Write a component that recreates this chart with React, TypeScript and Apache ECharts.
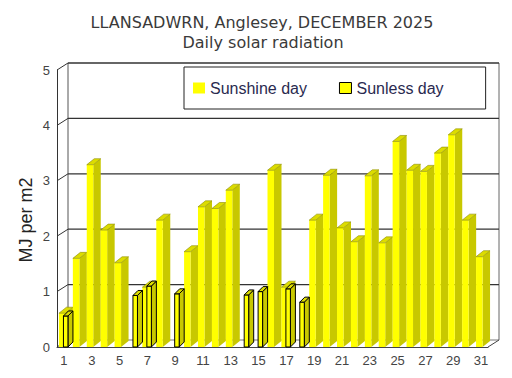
import React, { useEffect, useRef } from "react";
import * as echarts from "echarts";

const titleText = "LLANSADWRN, Anglesey, DECEMBER 2025";
const subtitleText = "Daily solar radiation";
const yAxisName = "MJ per m2";

const days = ["1","2","3","4","5","6","7","8","9","10","11","12","13","14","15","16","17","18","19","20","21","22","23","24","25","26","27","28","29","30","31"];
const sunshine: (number | null)[] = [0.61, 1.6, 3.29, 2.11, 1.52, null, 1.08, 2.29, null, 1.72, 2.53, 2.5, 2.83, null, null, 3.19, 1.08, null, 2.29, 3.1, 2.15, 1.9, 3.09, 1.88, 3.71, 3.19, 3.17, 3.5, 3.83, 2.29, 1.63];
const sunless: (number | null)[] = [0.56, null, null, null, null, 0.93, 1.1, null, 0.96, null, null, null, null, 0.94, 1.0, null, 1.05, 0.81, null, null, null, null, null, null, null, null, null, null, null, null, null];
const yTicks = [0, 1, 2, 3, 4, 5];

const DX = 11;
const DY = -7;

function toPoints(arr: (number | null)[]) {
  const out: number[][] = [];
  arr.forEach((v, i) => {
    if (v !== null) out.push([i, v]);
  });
  return out;
}

export default function App() {
  const ref = useRef<HTMLDivElement>(null);
  useEffect(() => {
    if (!ref.current) return;
    const chart = echarts.init(ref.current, undefined, { renderer: "svg" });

    const barRender = (kind: "sun" | "dull") => (params: any, api: any) => {
      const i = api.value(0);
      const v = api.value(1);
      const top = api.coord([i, v]);
      const bot = api.coord([i, 0]);
      const c = top[0];
      let x0: number, x1: number, dx: number, dy: number;
      if (kind === "sun") {
        x0 = c - 5; x1 = c + 1.5; dx = 7.5; dy = -6;
      } else {
        x0 = c - 0.5; x1 = c + 4; dx = 5; dy = -5;
      }
      const yt = top[1];
      const yb = bot[1];
      const stroke = kind === "dull" ? "#000" : undefined;
      const lw = kind === "dull" ? 1 : 0;
      return {
        type: "group",
        children: [
          {
            type: "polygon",
            shape: { points: [[x1, yt], [x1 + dx, yt + dy], [x1 + dx, yb + dy], [x1, yb]] },
            style: { fill: "#c8c800", stroke: stroke, lineWidth: lw },
          },
          {
            type: "rect",
            shape: { x: x0, y: yt, width: x1 - x0, height: yb - yt },
            style: { fill: "#ffff00", stroke: stroke, lineWidth: lw },
          },
          {
            type: "polygon",
            shape: { points: [[x0, yt], [x1, yt], [x1 + dx, yt + dy], [x0 + dx, yt + dy]] },
            style: { fill: "#dcdc00", stroke: kind === "dull" ? "#000" : "#8c8c00", lineWidth: kind === "dull" ? 1 : 0.6 },
          },
        ],
      };
    };

    const frameRender = (params: any, api: any) => {
      const cs = params.coordSys;
      const v = api.value(1);
      const p = api.coord([0, v]);
      const y = p[1];
      const xl = cs.x;
      const xr = cs.x + cs.width;
      const children: any[] = [
        { type: "line", shape: { x1: xl, y1: y, x2: xl + DX, y2: y + DY }, style: { stroke: "#333", lineWidth: 1 } },
        { type: "line", shape: { x1: xl + DX, y1: y + DY, x2: xr + DX, y2: y + DY }, style: { stroke: v === 0 ? "#777" : "#333", lineWidth: v === 0 ? 1 : 1.3 } },
      ];
      if (v === 0) {
        const yTop = cs.y;
        children.push(
          { type: "line", shape: { x1: xl + DX, y1: y + DY, x2: xl + DX, y2: yTop + DY }, style: { stroke: "#555", lineWidth: 1 } },
          { type: "line", shape: { x1: xr + DX, y1: y + DY, x2: xr + DX, y2: yTop + DY }, style: { stroke: "#666", lineWidth: 1 } },
          { type: "line", shape: { x1: xr, y1: y, x2: xr + DX, y2: y + DY }, style: { stroke: "#444", lineWidth: 1 } }
        );
      }
      return { type: "group", children };
    };

    chart.setOption({
      animation: false,
      backgroundColor: "#ffffff",
      grid: { left: 57, top: 70, right: 24, bottom: 31, containLabel: false },
      xAxis: {
        type: "category",
        data: days,
        boundaryGap: true,
        axisLine: { show: true, lineStyle: { color: "#444", width: 1 } },
        axisTick: { show: false },
        axisLabel: { interval: 1, margin: 7, fontSize: 13, color: "#444", fontFamily: "Liberation Sans" },
        splitLine: { show: false },
      },
      yAxis: {
        type: "value",
        min: 0,
        max: 5,
        interval: 1,
        axisLine: { show: true, lineStyle: { color: "#333", width: 1 } },
        axisTick: { show: false },
        axisLabel: { margin: 7, fontSize: 13, color: "#444", fontFamily: "Liberation Sans" },
        splitLine: { show: false },
      },
      legend: {
        left: 184,
        top: 67,
        orient: "horizontal",
        padding: [13, 42, 13, 9],
        itemWidth: 12,
        itemHeight: 11,
        itemGap: 32,
        borderColor: "#222",
        borderWidth: 1,
        selectedMode: false,
        textStyle: { fontSize: 16, color: "#2a2a50", fontFamily: "Liberation Sans" },
        data: [
          { name: "Sunshine day", icon: "rect", itemStyle: { color: "#ffff00", borderWidth: 0 } },
          { name: "Sunless day", icon: "rect", itemStyle: { color: "#ffff00", borderColor: "#000", borderWidth: 1 } },
        ],
      },
      graphic: [
        { type: "text", x: 262, y: 22, style: { text: titleText, align: "center", verticalAlign: "middle", fontSize: 16, fontFamily: "DejaVu Sans", fill: "#3a3a3a" } },
        { type: "text", x: 263, y: 42, style: { text: subtitleText, align: "center", verticalAlign: "middle", fontSize: 16, fontFamily: "DejaVu Sans", fill: "#3a3a3a" } },
        { type: "text", x: 26, y: 220, rotation: Math.PI / 2, style: { text: yAxisName, align: "center", verticalAlign: "middle", fontSize: 18, fontFamily: "Liberation Sans", fill: "#222" } },
      ],
      series: [
        {
          type: "custom",
          name: "frame",
          silent: true,
          clip: false,
          z: 1,
          renderItem: frameRender,
          data: yTicks.map((t) => [0, t]),
          encode: { x: 0, y: 1 },
        },
        {
          type: "custom",
          name: "Sunshine day",
          clip: false,
          z: 2,
          itemStyle: { color: "#ffff00" },
          renderItem: barRender("sun"),
          data: toPoints(sunshine),
          encode: { x: 0, y: 1 },
        },
        {
          type: "custom",
          name: "Sunless day",
          clip: false,
          z: 3,
          itemStyle: { color: "#ffff00", borderColor: "#000", borderWidth: 1 },
          renderItem: barRender("dull"),
          data: toPoints(sunless),
          encode: { x: 0, y: 1 },
        },
      ],
    });
    return () => chart.dispose();
  }, []);
  return <div ref={ref} style={{ position: "fixed", left: 0, top: 0, width: 512, height: 378 }} />;
}
